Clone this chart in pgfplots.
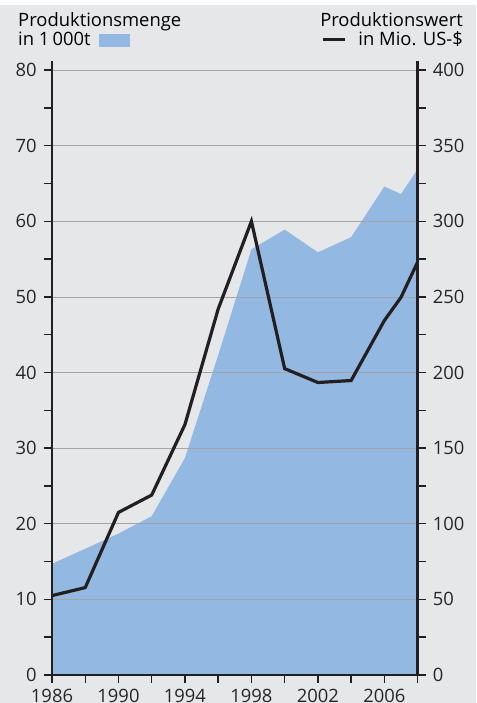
\documentclass[border=0pt]{standalone}
\usepackage{fontspec}
\setmainfont{Open Sans}
\usepackage{pgfplots}
\pgfplotsset{compat=1.18}
\definecolor{bg}{HTML}{E6E7E9}
\definecolor{areablue}{HTML}{93B9E3}
\definecolor{linek}{HTML}{231F20}
\definecolor{gridc}{HTML}{A3A4A6}
\pgfplotstableread{
year menge
1986 14.7
1988 16.7
1990 18.7
1992 21.0
1994 28.7
1996 42.3
1998 56.3
2000 58.9
2002 55.9
2004 57.9
2006 64.6
2007 63.6
2008 66.9
}\mengetable
\pgfplotstableread{
year wert
1986 52.5
1988 57.8
1990 107.5
1992 119
1994 165.6
1996 242
1998 300
2000 202.6
2002 193.4
2004 194.7
2006 234.4
2007 249.7
2008 273
}\werttable
\begin{document}
\fontsize{18.4pt}{22pt}\selectfont
\begin{tikzpicture}
\useasboundingbox (-52pt,-28pt) rectangle (424pt,675pt);
\clip (-52pt,-28pt) rectangle (424pt,675pt);
\fill[bg] (-52pt,-28pt) rectangle (424pt,675pt);
\fill[white] (-52pt,670pt) rectangle (424pt,675pt);
\pgfplotsset{
  common/.style={
    at={(0pt,0pt)}, anchor=south west, scale only axis,
    width=365.6pt, height=614pt,
    xmin=1986, xmax=2008,
    axis line style={line width=2.4pt, linek, -},
    tick style={line width=1.4pt, linek},
    major tick length=8pt, minor tick length=8pt,
    tick align=outside,
    /pgf/number format/assume math mode=true,
    /pgf/number format/1000 sep={},
    ticklabel style={font=\fontsize{18.4pt}{22pt}\selectfont, text=black!85},
  }
}
\begin{axis}[common,
  ymin=0, ymax=81.2,
  axis x line*=bottom, axis y line*=left,
  xtick={1986,1990,...,2006},
  minor xtick={1988,1992,...,2008},
  ytick={0,10,...,80},
  minor ytick={5,15,...,75},
  ymajorgrids,
  grid style={gridc, line width=0.8pt},
  axis on top,
  xticklabel style={yshift=0pt},
  yticklabel style={xshift=-1pt},
]
\addplot[fill=areablue, draw=none] table[x=year, y=menge] {\mengetable} \closedcycle;
\end{axis}
\begin{axis}[common,
  ymin=0, ymax=406,
  axis y line*=right, axis x line=none,
  ytick={0,50,...,400},
  minor ytick={25,75,...,375},
  yticklabel style={xshift=1pt},
]
\addplot[linek, line width=3.2pt, line join=miter, mark=none] table[x=year, y=wert] {\werttable};
\end{axis}
\node[anchor=base west, inner sep=0pt] at (-34pt,648pt) {Produktionsmenge};
\node[anchor=base west, inner sep=0pt] at (-34pt,629pt) {in 1\,000t};
\fill[areablue] (47pt,628pt) rectangle (78pt,641pt);
\node[anchor=base east, inner sep=0pt] at (411pt,648pt) {Produktionswert};
\node[anchor=base east, inner sep=0pt] at (411pt,629pt) {in Mio. US-\$};
\draw[linek, line width=3pt] (271pt,635pt) -- (293pt,635pt);
\end{tikzpicture}
\end{document}
